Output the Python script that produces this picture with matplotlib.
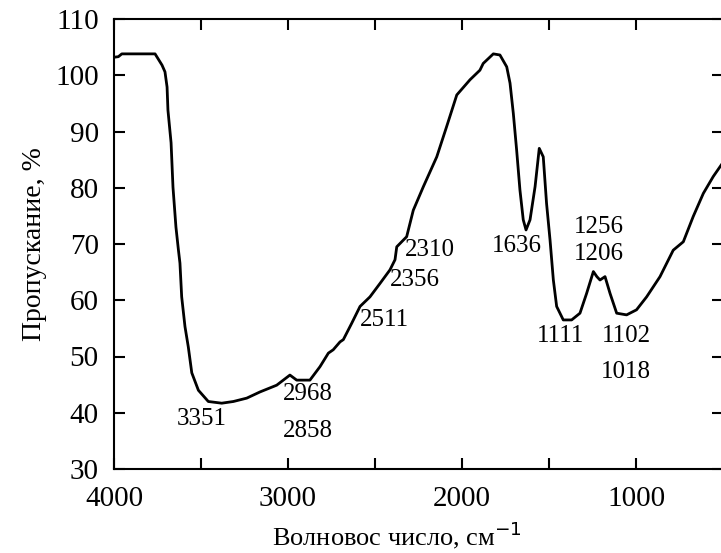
import matplotlib
matplotlib.use("Agg")
import matplotlib.pyplot as plt

wavenumber = [4000, 3975, 3955, 3764, 3724, 3707, 3695, 3690, 3672, 3661, 3644, 3630,
              3621, 3611, 3592, 3573, 3553, 3515, 3458, 3381, 3314, 3237, 3161, 3065,
              2989, 2950, 2874, 2816, 2768, 2740, 2701, 2682, 2634, 2586, 2529, 2471,
              2414, 2385, 2375, 2318, 2280, 2222, 2145, 2088, 2030, 1954, 1897, 1878,
              1820, 1782, 1743, 1724, 1705, 1686, 1667, 1648, 1632, 1609, 1580, 1556,
              1533, 1514, 1494, 1475, 1456, 1418, 1370, 1322, 1284, 1245, 1225, 1207,
              1178, 1149, 1111, 1054, 997, 939, 862, 786, 728, 671, 613, 556, 500]
transmittance = [103.2, 103.3, 103.8, 103.8, 101.8, 100.6, 97.9, 93.8, 88.0, 80.1, 73.0, 69.0,
                 66.6, 60.6, 55.3, 51.7, 47.1, 44.0, 42.0, 41.7, 42.0, 42.6, 43.7, 44.9,
                 46.7, 45.8, 45.8, 48.2, 50.6, 51.2, 52.6, 53.0, 55.9, 58.9, 60.6, 63.0,
                 65.4, 67.2, 69.5, 71.3, 76.0, 80.2, 85.5, 90.9, 96.5, 99.2, 100.9, 102.1,
                 103.8, 103.6, 101.5, 98.6, 93.2, 86.7, 79.6, 74.3, 72.5, 74.3, 80.2, 87.0,
                 85.5, 77.2, 70.7, 63.6, 58.9, 56.5, 56.5, 57.7, 61.2, 65.1, 64.2, 63.6,
                 64.2, 61.2, 57.7, 57.4, 58.3, 60.6, 64.2, 68.9, 70.4, 74.9, 79.0, 82.0, 84.5]

peak_labels = ["3351", "2968", "2858", "2511", "2356", "2310", "1636",
               "1256", "1206", "1111", "1102", "1018"]
label_x = [3494, 2885, 2885, 2448, 2270, 2184, 1684, 1213, 1213, 1431, 1057, 1057]
label_y = [38.9, 43.3, 36.8, 56.5, 63.6, 68.9, 69.6, 73.0, 68.2, 53.6, 53.6, 47.3]

x_ticks = [4000, 3000, 2000, 1000]
x_minor = [3500, 2500, 1500]
y_ticks = [30, 40, 50, 60, 70, 80, 90, 100, 110]

plt.rcParams['font.family'] = ['Liberation Serif', 'DejaVu Serif']

fig = plt.figure(figsize=(7.21, 5.53), dpi=100)
ax = fig.add_axes([114/721, 1 - 469/553, 609/721, 450/553])

ax.plot(wavenumber, transmittance, color='black', lw=2.0, solid_joinstyle='round')

for t, x, y in zip(peak_labels, label_x, label_y):
    ax.text(x, y, t, fontsize=18, ha='center', va='center')

ax.set_xlim(4000, 500)
ax.set_ylim(30, 110)
ax.set_xticks(x_ticks)
ax.set_xticks(x_minor, minor=True)
ax.set_yticks(y_ticks)
ax.tick_params(which='both', direction='in', length=8, width=1.5,
               top=True, right=True, labelsize=21)
ax.tick_params(axis='x', which='major', pad=12)
ax.tick_params(axis='y', which='major', pad=11)
for s in ax.spines.values():
    s.set_linewidth(1.5)

ax.set_xlabel("Волновос число, см$^{-1}$", fontsize=19, va='center')
ax.xaxis.set_label_coords(0.465, -0.147)
ax.set_ylabel("Пропускание, %", fontsize=20)
ax.yaxis.set_label_coords(-0.11, 0.5)

fig.savefig("out.png", dpi=100)
